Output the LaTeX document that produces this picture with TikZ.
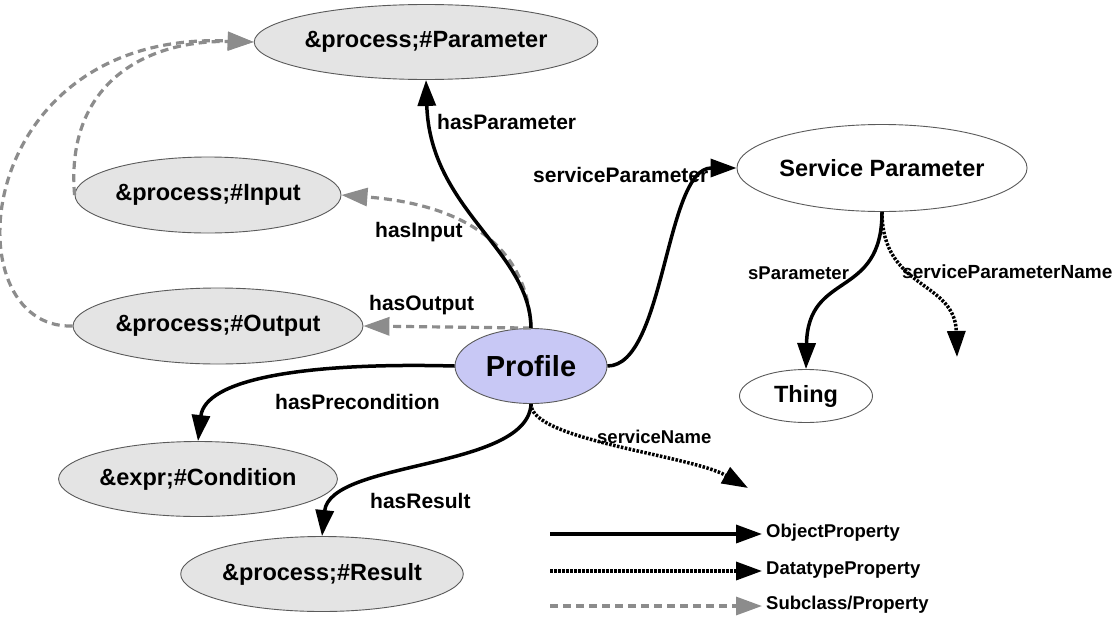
\documentclass[tikz,border=0pt]{standalone}
\usepackage{fontspec}
\usepackage{graphicx}
\setmainfont{Liberation Sans}
\usetikzlibrary{shapes.geometric,arrows.meta}

\definecolor{nodefill}{RGB}{228,228,228}
\definecolor{nodeline}{RGB}{90,90,90}
\definecolor{proffill}{RGB}{200,200,245}
\definecolor{subgray}{RGB}{140,140,140}

\tikzset{
  cls/.style={ellipse, draw=nodeline, line width=0.9pt, fill=nodefill, inner sep=0pt,
              font=\fontsize{23.5}{26}\selectfont\bfseries},
  plaincls/.style={cls, fill=white},
  tip/.style={-{Triangle[length=26pt,width=18pt]}},
  objprop/.style={tip, draw=black, line width=3.5pt},
  dataprop/.style={tip, draw=black, line width=3.5pt, dash pattern=on 2.5pt off 1.5pt},
  subprop/.style={tip, draw=subgray, line width=3.2pt, dash pattern=on 8pt off 5pt},
  lbl/.style={anchor=west, inner sep=0pt, font=\fontsize{21}{23}\selectfont\bfseries},
  smalllbl/.style={lbl, font=\fontsize{18.5}{21}\selectfont\bfseries},
  legendlbl/.style={anchor=west, inner sep=0pt, font=\fontsize{18.5}{21}\selectfont\bfseries}
}

\begin{document}
\begin{tikzpicture}[x=1pt,y=-1pt]
  \useasboundingbox[fill=white] (0,0) rectangle (1115,621);

  % classes
  \node[cls, minimum width=282pt, minimum height=75pt] (par)  at (426,42)  {\&process;\#Parameter};
  \node[cls, minimum width=266pt, minimum height=76pt] (inp)  at (208,195) {\&process;\#Input};
  \node[cls, minimum width=251pt, minimum height=76pt] (outp) at (218,326) {\&process;\#Output};
  \node[cls, minimum width=247pt, minimum height=75pt] (cond) at (198,479) {\&expr;\#Condition};
  \node[cls, minimum width=227pt, minimum height=75pt] (res)  at (322,574) {\&process;\#Result};
  \node[cls, fill=proffill, minimum width=152pt, minimum height=75pt,
        font=\fontsize{29}{32}\selectfont\bfseries] (prof) at (531,366) {Profile};
  \node[plaincls, minimum width=247pt, minimum height=87pt] (sp) at (882,168) {Service Parameter};
  \node[plaincls, minimum width=133pt, minimum height=53pt] (thing) at (806,396) {Thing};

  % free ends of datatype properties
  \coordinate (snEnd)  at (748,488);
  \coordinate (spnEnd) at (957,357);

  % subclass links
  \draw[subprop] (inp.west) .. controls (65,80) and (150,40) .. (par.west);
  \draw[subprop] (outp.west) .. controls (-50,330) and (-30,30) .. (par.west);

  % properties of Profile
  \draw[subprop] (prof.north) .. controls (528,250) and (470,205) .. (inp.east);
  \draw[subprop] (prof.north) -- (outp.east);
  \draw[objprop] (prof.north) .. controls (530,250) and (430,210) .. (par.south);
  \draw[objprop] (prof.east) .. controls (665,366) and (665,168) .. (sp.west);
  \draw[objprop] (prof.west) .. controls (300,362) and (205,380) .. (cond.north);
  \draw[objprop] (prof.south) .. controls (528,470) and (330,460) .. (res.north);
  \draw[dataprop] (prof.south) .. controls (530,440) and (690,455) .. (snEnd);

  % properties of Service Parameter
  \draw[objprop] (sp.south) .. controls (882,300) and (808,270) .. (thing.north);
  \draw[dataprop] (sp.south) .. controls (882,290) and (955,280) .. (spnEnd);

  % edge labels
  \node[lbl] (lPar)  at (437,122) {hasParameter};
  \node[lbl] (lSP)   at (533,175) {serviceParameter};
  \node[lbl] (lInp)  at (375,232) {hasInput};
  \node[lbl] (lOut)  at (369,305) {hasOutput};
  \node[lbl] (lPre)  at (275,402) {hasPrecondition};
  \node[lbl] (lRes)  at (370,501) {hasResult};
  \node[smalllbl] (lSN)   at (597,437) {serviceName};
  \node[smalllbl] (lsPar) at (748,273) {sParameter};
  \node[smalllbl, font=\fontsize{19}{21}\selectfont\bfseries] (lSPN) at (902,272) {serviceParameterName};

  % legend
  \coordinate (k1a) at (550,534); \coordinate (k1b) at (762,534);
  \coordinate (k2a) at (550,571); \coordinate (k2b) at (762,571);
  \coordinate (k3a) at (550,606); \coordinate (k3b) at (762,606);
  \draw[objprop]  (k1a) -- (k1b);
  \draw[dataprop] (k2a) -- (k2b);
  \draw[subprop]  (k3a) -- (k3b);
  \node[legendlbl] (kObj) at (766,533) {ObjectProperty};
  \node[legendlbl] (kDat) at (766,570) {DatatypeProperty};
  \node[legendlbl] (kSub) at (766,605) {Subclass/Property};
\end{tikzpicture}
\end{document}
